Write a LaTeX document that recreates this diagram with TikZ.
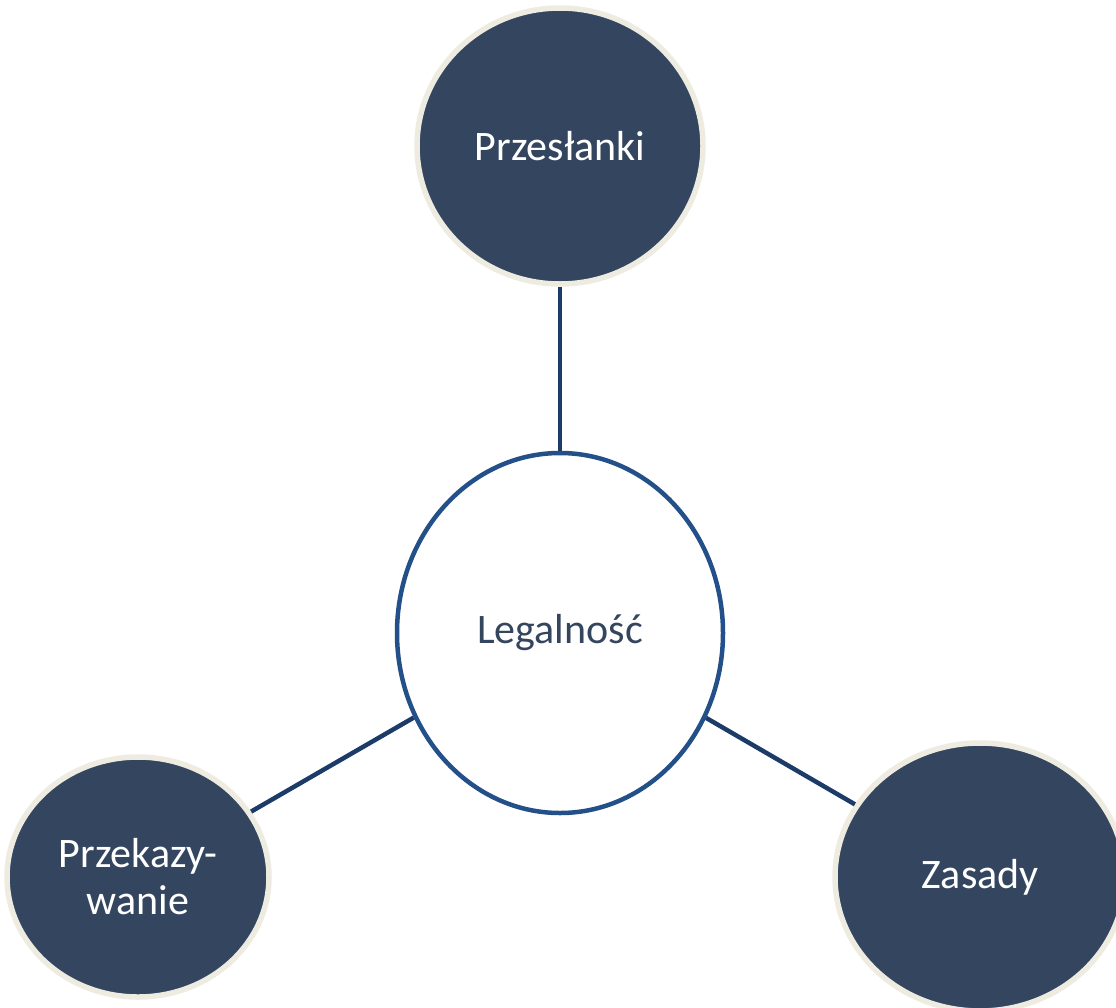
\documentclass[tikz,border=0pt]{standalone}
\usepackage{fontspec}
\setmainfont{Carlito}
\usetikzlibrary{shapes.geometric}
\definecolor{darkfill}{HTML}{34455F}
\definecolor{beige}{HTML}{EEEBE1}
\definecolor{ringblue}{HTML}{24508A}
\definecolor{linknavy}{HTML}{1C3B68}
\definecolor{centertext}{HTML}{34455E}
\tikzset{
  outer/.style={ellipse, fill=darkfill, draw=beige, line width=5.5pt, inner sep=0pt,
    text=white, font=\fontsize{42}{47}\selectfont, align=center},
  hub/.style={ellipse, fill=white, draw=ringblue, line width=4.5pt, inner sep=0pt,
    text=centertext, font=\fontsize{42}{47}\selectfont},
  link/.style={draw=linknavy, line width=4.5pt}
}
\begin{document}
\begin{tikzpicture}[x=1pt,y=-1pt]
\useasboundingbox (0,0) rectangle (1116,1007);
\clip (0,0) rectangle (1116,1007);
\node[hub, minimum width=326pt, minimum height=360pt] (c) at (560,633) {Legalność};
\node[outer, minimum width=286pt, minimum height=276pt] (t) at (560,146) {Przesłanki};
\node[outer, minimum width=262pt, minimum height=240pt] (l) at (138,877) {Przekazy-\\wanie};
\node[outer, minimum width=290pt, minimum height=268pt] (r) at (980,877) {Zasady};
\draw[link] (c) -- (t);
\draw[link] (c) -- (l);
\draw[link] (c) -- (r);
\end{tikzpicture}
\end{document}
